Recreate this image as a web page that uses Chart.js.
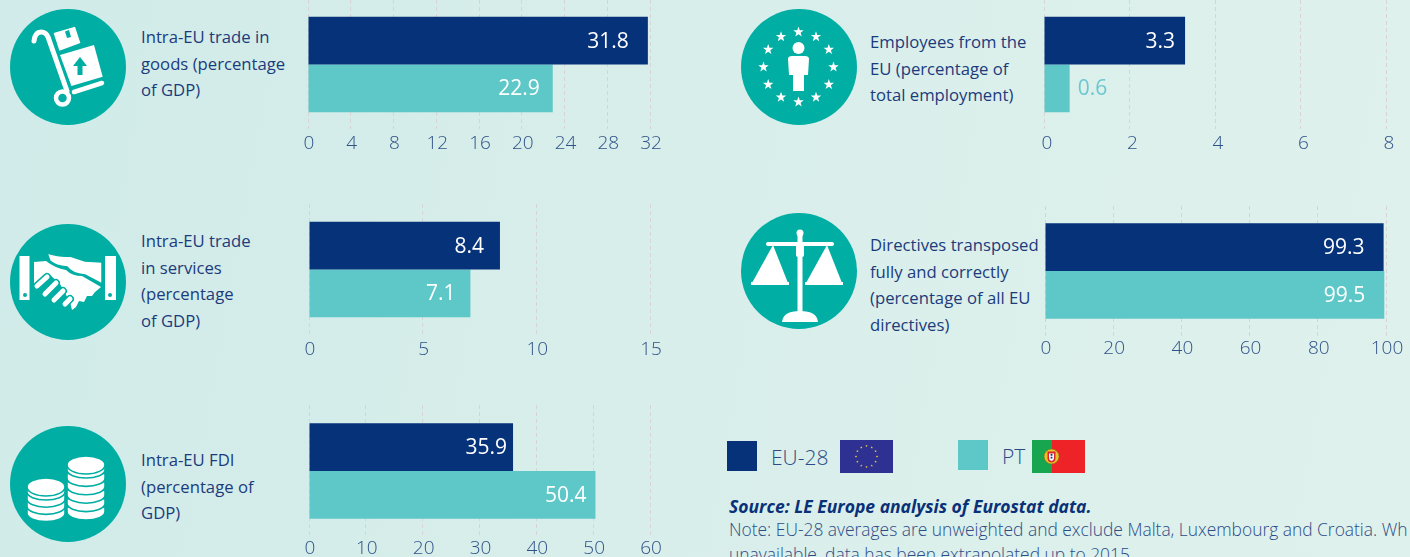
<!DOCTYPE html>
<html>
<head>
<meta charset="utf-8">
<script src="https://cdn.jsdelivr.net/npm/chart.js@4"></script>
<style>
    html, body { margin: 0; padding: 0; }
    body {
        width: 1410px; height: 557px; overflow: hidden; position: relative;
        background: linear-gradient(100deg, #d0ebe9 0%, #d8eeea 45%, #dff1ed 100%);
        font-family: "Open Sans", sans-serif; color: #1b3b7c;
    }
    canvas { position: absolute; }
    .metric { position: absolute; font-size: 16.7px; line-height: 26.6px; white-space: nowrap; }
    .icon { position: absolute; width: 116px; height: 116px; }
    .swatch { position: absolute; width: 30px; height: 30px; }
    .legend-text { position: absolute; font-size: 21px; font-weight: 300; color: #2b4c87; line-height: 30px; }
    .flag { position: absolute; width: 53px; height: 33px; }
    .source { position: absolute; left: 729px; top: 494px; font-size: 17.5px; font-weight: 700; font-style: italic; color: #0a3178; white-space: nowrap; }
    .note { position: absolute; left: 729px; top: 517px; font-size: 17.4px; font-weight: 300; line-height: 25px; color: #2b4c87; white-space: nowrap; }
</style>
</head>
<body>

<svg class="icon" style="left:10px;top:9px" viewBox="0 0 116 116">
    <circle cx="58" cy="58" r="58" fill="#00aea3"/>
    <path d="M24 32 Q25 23 31 23 Q36 23 38 28 L57 82" fill="none" stroke="#fff" stroke-width="5" stroke-linecap="round"/>
    <circle cx="52.5" cy="89" r="6.5" fill="none" stroke="#fff" stroke-width="4.5"/>
    <path d="M64 83 L92 74" stroke="#fff" stroke-width="4.5" stroke-linecap="round"/>
    <path d="M50 46 L84 36 L92.7 67.7 L61.4 77 Z" fill="#fff"/>
    <path d="M43.6 24 L65 17.7 L70.4 34 L49.4 41.7 Z" fill="#fff"/>
    <path d="M55 22.5 L59 21 L61 28 L57 29 Z" fill="#00aea3"/>
    <path d="M70 48 L77 57 L72.5 57 L72.5 66 L67.5 66 L67.5 57 L63 57 Z" fill="#00aea3"/>
</svg>

<svg class="icon" style="left:741px;top:9px" viewBox="0 0 116 116">
    <circle cx="58" cy="58" r="58" fill="#00aea3"/>
    <g id="eu-stars" fill="#fff"></g>
    <circle cx="57.5" cy="39" r="6" fill="#fff"/>
    <path d="M47 50 Q47 47 51 47 L64 47 Q68 47 68 50 L67 66 L63 66 L63 82 L52 82 L52 66 L48 66 Z" fill="#fff"/>
</svg>

<svg class="icon" style="left:10px;top:224px" viewBox="0 0 116 116">
    <circle cx="58" cy="58" r="58" fill="#00aea3"/>
    <rect x="9.5" y="32" width="10" height="44" fill="#fff"/>
    <rect x="95" y="32" width="11" height="44" fill="#fff"/>
    <circle cx="15" cy="71" r="2" fill="#00aea3"/>
    <circle cx="100" cy="71" r="2" fill="#00aea3"/>
    <path d="M24 38 L36 37 Q45 44 56 46 Q62 52 72 52 L91 63 L85 68 L82 72 L77 72 L74 78 L69 77 L66 83 L62 86 L60 78 L50 60 L38 49 L24 60 Z" fill="#fff"/>
    <path d="M37 29 Q50 33 60 32 L75 37 L92 38 L92 60 L75 51 Q62 50 57 43 Q46 42 40 37 Z" fill="#fff" stroke="#00aea3" stroke-width="1.5"/>
    <g stroke-linecap="round" fill="none">
        <path d="M27 62 L37 53 M35 70 L46 59 M44 76 L53 67 M55 80 L60 75" stroke="#00aea3" stroke-width="8"/>
        <path d="M27 62 L37 53 M35 70 L46 59 M44 76 L53 67 M55 80 L60 75" stroke="#fff" stroke-width="5"/>
    </g>
</svg>

<svg class="icon" style="left:741px;top:213px" viewBox="0 0 116 116">
    <circle cx="58" cy="58" r="58" fill="#00aea3"/>
    <circle cx="59" cy="20" r="3.5" fill="#fff"/>
    <rect x="56.5" y="21" width="5" height="78" fill="#fff"/>
    <rect x="55" y="30" width="8" height="14" rx="2" fill="#fff"/>
    <rect x="25" y="29" width="68" height="4" rx="2" fill="#fff"/>
    <path d="M32 32 L11 70 L47 70 Z" fill="#fff"/>
    <path d="M86 32 L65 70 L101 70 Z" fill="#fff"/>
    <rect x="10" y="69" width="38" height="3" fill="#fff"/>
    <rect x="64" y="69" width="38" height="3" fill="#fff"/>
    <path d="M41 109 Q42 98 59 98 Q76 98 77 109 Z" fill="#fff"/>
</svg>

<svg class="icon" style="left:10px;top:426px" viewBox="0 0 116 116" id="coins-icon">
    <circle cx="58" cy="58" r="58" fill="#00aea3"/>
</svg>

<div class="metric" style="left:141px;top:24px">Intra-EU trade in<br>goods (percentage<br>of GDP)</div>
<div class="metric" style="left:870px;top:29px">Employees from the<br>EU (percentage of<br>total employment)</div>
<div class="metric" style="left:141px;top:228px">Intra-EU trade<br>in services<br>(percentage<br>of GDP)</div>
<div class="metric" style="left:870px;top:232px">Directives transposed<br>fully and correctly<br>(percentage of all EU<br>directives)</div>
<div class="metric" style="left:141px;top:447px">Intra-EU FDI<br>(percentage of<br>GDP)</div>

<canvas id="chart-goods"></canvas>
<canvas id="chart-services"></canvas>
<canvas id="chart-fdi"></canvas>
<canvas id="chart-employees"></canvas>
<canvas id="chart-directives"></canvas>

<!-- Leyenda -->
<div class="swatch" style="left:727px;top:441px;background:#06327a"></div>
<div class="legend-text" style="left:771px;top:442px">EU-28</div>
<svg class="flag" style="left:840px;top:440px" viewBox="0 0 53 33" id="flag-eu">
    <rect width="53" height="33" fill="#2e3192"/>
</svg>
<div class="swatch" style="left:958px;top:440px;background:#5ec8c8"></div>
<div class="legend-text" style="left:1002px;top:441px">PT</div>
<svg class="flag" style="left:1032px;top:440px" viewBox="0 0 53 33">
    <rect width="53" height="33" fill="#ed2328"/>
    <rect width="20" height="33" fill="#17a550"/>
    <circle cx="19.5" cy="16.5" r="7.5" fill="#e8c22a" stroke="#8a6a1a" stroke-width="0.6"/>
    <path d="M15.5 11.5 H23.5 V18 Q23.5 22 19.5 22.5 Q15.5 22 15.5 18 Z" fill="#d8262c"/>
    <path d="M17 13.5 H22 V18 Q22 20.5 19.5 21 Q17 20.5 17 18 Z" fill="#fff"/>
    <path d="M18.6 14 h1.8 v1.8 h-1.8 Z M18.6 16.8 h1.8 v1.8 h-1.8 Z" fill="#1a2a6c"/>
</svg>

<div class="source">Source: LE Europe analysis of Eurostat data.</div>
<div class="note">Note: EU-28 averages are unweighted and exclude Malta, Luxembourg and Croatia. Wh<br>unavailable, data has been extrapolated up to 2015.</div>

<script>
// Datos
const seriesNames = ["EU-28", "PT"];
const goodsValues = [31.8, 22.9];
const servicesValues = [8.4, 7.1];
const fdiValues = [35.9, 50.4];
const employeesValues = [3.3, 0.6];
const directivesValues = [99.3, 99.5];

const goodsTicks = [0, 4, 8, 12, 16, 20, 24, 28, 32];
const servicesTicks = [0, 5, 10, 15];
const fdiTicks = [0, 10, 20, 30, 40, 50, 60];
const employeesTicks = [0, 2, 4, 6, 8];
const directivesTicks = [0, 20, 40, 60, 80, 100];

const NAVY = "#06327a";
const TEAL = "#5ec8c8";

// Etiquetas de valor dentro de la barra (o fuera si no cabe)
const valueLabels = {
    id: "valueLabels",
    afterDatasetsDraw(chart, args, opts) {
        const { ctx } = chart;
        ctx.save();
        ctx.font = "21px 'Open Sans'";
        ctx.textBaseline = "middle";
        chart.data.datasets.forEach((ds, i) => {
            const bar = chart.getDatasetMeta(i).data[0];
            const inset = opts.insets[i];
            if (inset < 0) {
                ctx.textAlign = "left";
                ctx.fillStyle = "#6cc8d0";
            } else {
                ctx.textAlign = "right";
                ctx.fillStyle = "#ffffff";
            }
            ctx.fillText(ds.data[0].toFixed(1), bar.x - inset, bar.y + 1);
        });
        ctx.restore();
    }
};

function drawPanel(id, values, ticks, pos) {
    const axisMax = ticks[ticks.length - 1];
    const step = ticks[1] - ticks[0];
    const AXIS_H = 34, PAD = 24;
    const areaH = pos.bottom - pos.top;
    const canvas = document.getElementById(id);
    canvas.width = pos.right - pos.left + PAD * 2;
    canvas.height = areaH + AXIS_H;
    canvas.style.left = (pos.left - PAD) + "px";
    canvas.style.top = pos.top + "px";

    new Chart(canvas, {
        type: "bar",
        data: {
            labels: [id],
            datasets: [
                { label: seriesNames[0], data: [values[0]], backgroundColor: NAVY },
                { label: seriesNames[1], data: [values[1]], backgroundColor: TEAL }
            ]
        },
        options: {
            indexAxis: "y",
            responsive: false,
            animation: false,
            layout: { padding: { left: PAD, right: PAD, top: 0, bottom: 0 } },
            datasets: { bar: { barPercentage: 1, categoryPercentage: 95.5 / areaH } },
            plugins: {
                legend: { display: false },
                tooltip: { enabled: false },
                valueLabels: { insets: pos.insets }
            },
            scales: {
                y: { display: false },
                x: {
                    min: 0,
                    max: axisMax,
                    afterFit: scale => { scale.height = AXIS_H; },
                    border: { display: false, dash: [4, 3] },
                    grid: { color: "#d8d3d4", lineWidth: 1, drawTicks: false },
                    ticks: {
                        stepSize: step,
                        autoSkip: false,
                        maxRotation: 0,
                        padding: pos.tickPad,
                        labelOffset: pos.labelOffset,
                        color: "#2f5288",
                        font: { family: "Open Sans", size: 19, weight: "300" }
                    }
                }
            }
        },
        plugins: [valueLabels]
    });
}

// Iconos decorativos repetitivos
const svgNS = "http://www.w3.org/2000/svg";
function addShape(parent, tag, attrs) {
    const el = document.createElementNS(svgNS, tag);
    Object.keys(attrs).forEach(k => el.setAttribute(k, attrs[k]));
    parent.appendChild(el);
    return el;
}

function starPath(cx, cy, r) {
    let d = "";
    for (let i = 0; i < 10; i++) {
        const rad = i % 2 ? r * 0.4 : r;
        const a = -Math.PI / 2 + i * Math.PI / 5;
        d += (i ? "L" : "M") + (cx + rad * Math.cos(a)).toFixed(2) + " " + (cy + rad * Math.sin(a)).toFixed(2);
    }
    return d + "Z";
}

const euStars = document.getElementById("eu-stars");
const euFlag = document.getElementById("flag-eu");
for (let i = 0; i < 12; i++) {
    const a = i * Math.PI / 6;
    addShape(euStars, "path", { d: starPath(57.5 + 35 * Math.sin(a), 58 - 35 * Math.cos(a), 5.5) });
    addShape(euFlag, "path", { d: starPath(26.5 + 10.5 * Math.sin(a), 16.5 - 10.5 * Math.cos(a), 1.3), fill: "#f5d327" });
}

const coins = document.getElementById("coins-icon");
function coinStack(cx, topY, n, pitch) {
    const rx = 19;
    for (let i = n - 1; i >= 0; i--) {
        const y = topY + i * pitch;
        addShape(coins, "path", {
            d: `M${cx - rx} ${y} V${y + 5} A${rx} 8 0 0 0 ${cx + rx} ${y + 5} V${y} Z`,
            fill: "#fff", stroke: "#00aea3", "stroke-width": 1.6
        });
    }
    addShape(coins, "ellipse", { cx, cy: topY, rx, ry: 9, fill: "#fff", stroke: "#00aea3", "stroke-width": 1.6 });
}
coinStack(76, 39, 6, 8.4);
coinStack(36, 61, 4, 7.2);

// Paneles
document.fonts.ready.then(() => {
    drawPanel("chart-goods", goodsValues, goodsTicks,
        { left: 308, right: 650, top: 0, bottom: 129, insets: [19, 13], tickPad: 3, labelOffset: 1 });
    drawPanel("chart-services", servicesValues, servicesTicks,
        { left: 309, right: 650, top: 204, bottom: 335, insets: [16, 15], tickPad: 3, labelOffset: 1 });
    drawPanel("chart-fdi", fdiValues, fdiTicks,
        { left: 309, right: 650, top: 405, bottom: 537, insets: [6, 9], tickPad: 0, labelOffset: 1 });
    drawPanel("chart-employees", employeesValues, employeesTicks,
        { left: 1044, right: 1386, top: 0, bottom: 129, insets: [10, -8], tickPad: 3, labelOffset: 3 });
    drawPanel("chart-directives", directivesValues, directivesTicks,
        { left: 1045, right: 1386, top: 206, bottom: 336, insets: [19, 19], tickPad: 1, labelOffset: 1 });
});
</script>
</body>
</html>
